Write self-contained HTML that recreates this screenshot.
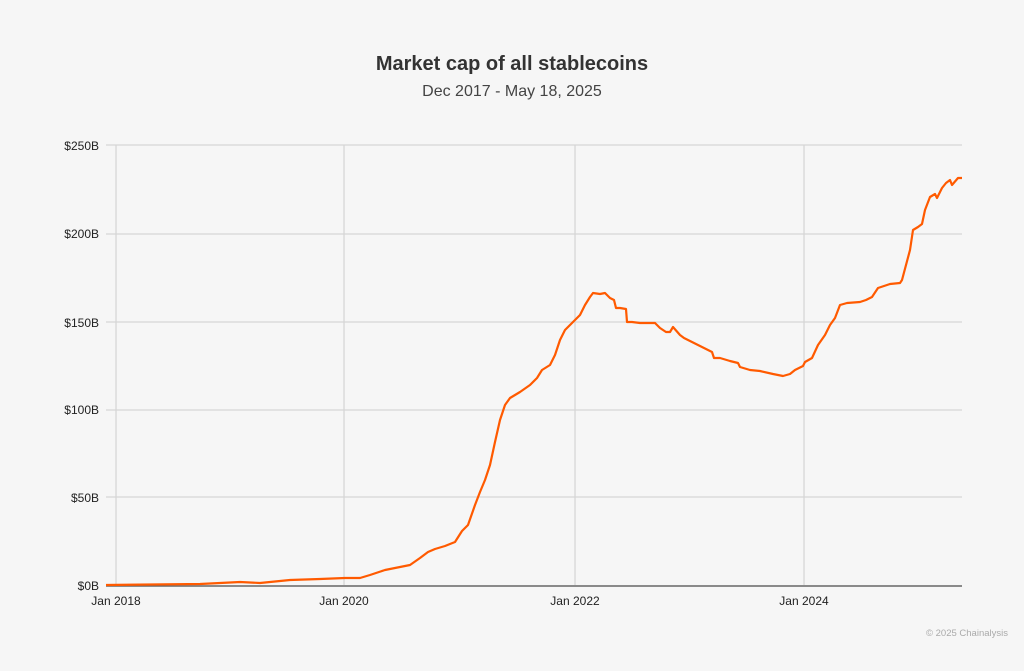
<!DOCTYPE html>
<html><head><meta charset="utf-8"><style>
html,body{margin:0;padding:0;background:#f6f6f6;}
body{width:1024px;height:666px;overflow:hidden;font-family:"Liberation Sans",sans-serif;}
</style></head><body>
<svg width="1024" height="666" xmlns="http://www.w3.org/2000/svg">
<rect width="1024" height="666" fill="#f6f6f6"/>
<text x="512" y="70" text-anchor="middle" font-size="20" font-weight="bold" fill="#333" font-family="Liberation Sans, sans-serif">Market cap of all stablecoins</text>
<text x="512" y="96" text-anchor="middle" font-size="16" fill="#444" font-family="Liberation Sans, sans-serif">Dec 2017 - May 18, 2025</text>
<g stroke="#d6d6d6" stroke-width="1.3">
<line x1="106" y1="145" x2="962" y2="145"/>
<line x1="106" y1="234" x2="962" y2="234"/>
<line x1="106" y1="322" x2="962" y2="322"/>
<line x1="106" y1="410" x2="962" y2="410"/>
<line x1="106" y1="497" x2="962" y2="497"/>
<line x1="116" y1="145" x2="116" y2="585"/>
<line x1="344" y1="145" x2="344" y2="585"/>
<line x1="575" y1="145" x2="575" y2="585"/>
<line x1="804" y1="145" x2="804" y2="585"/>
</g>
<line x1="106" y1="586" x2="962" y2="586" stroke="#666" stroke-width="1.5"/>
<g font-size="12" fill="#222" text-anchor="end" font-family="Liberation Sans, sans-serif">
<text x="99" y="150">$250B</text>
<text x="99" y="238">$200B</text>
<text x="99" y="327">$150B</text>
<text x="99" y="414">$100B</text>
<text x="99" y="502">$50B</text>
<text x="99" y="590">$0B</text>
</g>
<g font-size="12" fill="#222" text-anchor="middle" font-family="Liberation Sans, sans-serif">
<text x="116" y="605">Jan 2018</text>
<text x="344" y="605">Jan 2020</text>
<text x="575" y="605">Jan 2022</text>
<text x="804" y="605">Jan 2024</text>
</g>
<polyline fill="none" stroke="#ff5a00" stroke-width="2.2" stroke-linejoin="round" points="106,585 200,584 240,582 260,583 290,580 320,579 345,578 360,578 370,575 385,570 400,567 410,565 420,558 428,552 435,549 445,546 455,542 462,531 468,525 475,505 480,492 485,480 490,465 495,442 500,420 505,405 510,398 520,392 530,385 537,378 542,370 550,365 555,355 560,340 565,330 570,325 575,320 580,315 585,305 590,297 593,293 600,294 605,293 610,298 614,300 616,308 620,308 626,309 627,322 632,322 640,323 655,323 660,328 666,332 670,332 673,327 680,335 684,338 690,341 700,346 712,352 714,358 720,358 730,361 738,363 740,367 750,370 760,371 773,374 783,376 790,374 795,370 803,366 805,362 812,358 818,345 825,335 830,325 835,318 840,305 847,303 860,302 866,300 872,297 878,288 890,284 900,283 902,280 910,250 913,230 918,227 922,224 925,210 930,197 935,194 937,198 942,188 946,183 950,180 952,185 958,178 962,178"/>
<text x="1008" y="636" text-anchor="end" font-size="9.5" fill="#aaa" font-family="Liberation Sans, sans-serif">© 2025 Chainalysis</text>
</svg>
</body></html>
